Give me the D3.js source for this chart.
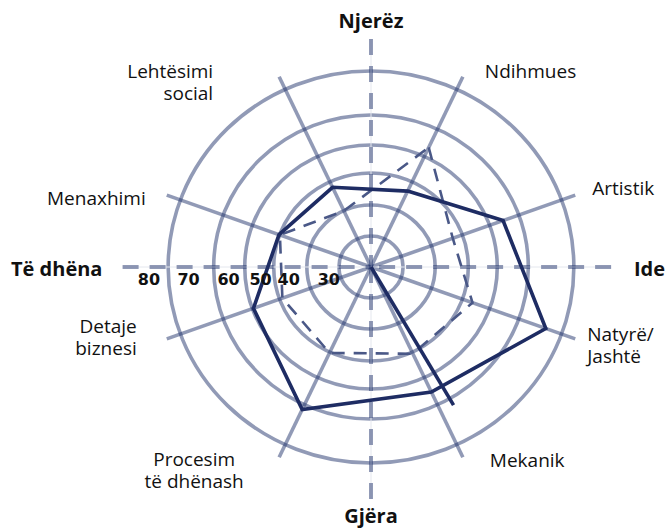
<!DOCTYPE html>
<html>
<head>
<meta charset="utf-8">
<script src="https://cdn.jsdelivr.net/npm/d3@7"></script>
<style>
  body { margin: 0; background: #fff; }
  text { font-family: "Open Sans", sans-serif; fill: #111; }
</style>
</head>
<body>
<svg id="chart"></svg>
<script>
var width = 668;
var height = 529;
var cx = 371, cy = 267;   // centre of the web
var sx = 1.035;           // the original is a touch wider than tall

// the eight solid spokes (clockwise from top)
var axisLabels = [["Ndihmues"], ["Artistik"], ["Natyrë/", "Jashtë"], ["Mekanik"],
                  ["Procesim", "të dhënash"], ["Detaje", "biznesi"], ["Menaxhimi"], ["Lehtësimi", "social"]];
var axisAngles = [25, 70, 110, 155, 205, 250, 290, 335];

// the four dashed main axes
var mainLabels = ["Njerëz", "Ide", "Gjëra", "Të dhëna"];
var mainAngles = [0, 90, 180, 270];

// ring values / tick labels
var ringValues = [30, 40, 50, 60, 70, 80];

// series (same order as axisLabels)
var solidValues = [46.8, 64.6, 76.3, 65.3, 71.2, 59.6, 50.2, 48.1];
var dashedValues = [63.3, 46.9, 53.7, 50.6, 50.3, 49.1, 49.9, 40.0];

// stray segment of the solid series that starts in the centre
var strayAngle = 150;
var strayValue = 71.7;

var svg = d3.select('#chart')
  .attr('width', width)
  .attr('height', height)
  .attr('viewBox', [0, 0, width, height]);

// radial scale (rings are not evenly spaced in the original)
var r = d3.scaleLinear()
  .domain([20, 30, 40, 50, 60, 70, 80])
  .range([0, 31, 62, 94, 122, 152, 196]);

var rad = d => d * Math.PI / 180;
function pt(a, v) {
  return [cx + sx * r(v) * Math.sin(rad(a)), cy - r(v) * Math.cos(rad(a))];
}
function ptR(a, len) {
  return [cx + sx * len * Math.sin(rad(a)), cy - len * Math.cos(rad(a))];
}

var gridColor = "#23356e";

// rings
svg.append("g").selectAll("ellipse")
  .data(ringValues)
  .join("ellipse")
    .attr("cx", cx).attr("cy", cy)
    .attr("rx", d => r(d) * sx)
    .attr("ry", d => r(d))
    .attr("fill", "none")
    .attr("stroke", gridColor)
    .attr("stroke-opacity", 0.5)
    .attr("stroke-width", 3.6);

// solid spokes
var spokeLen = 210;
svg.append("g").selectAll("line")
  .data(axisAngles)
  .join("line")
    .attr("x1", cx).attr("y1", cy)
    .attr("x2", d => ptR(d, spokeLen)[0])
    .attr("y2", d => ptR(d, spokeLen)[1])
    .attr("stroke", gridColor)
    .attr("stroke-opacity", 0.5)
    .attr("stroke-width", 3.6);

// dashed main axes (thin hairline underneath)
var mainLen = [228, 232, 232, 240];
var mainG = svg.append("g");
mainG.selectAll("line.hair")
  .data(mainAngles)
  .join("line")
    .attr("class", "hair")
    .attr("x1", cx).attr("y1", cy)
    .attr("x2", (d, i) => ptR(d, mainLen[i])[0])
    .attr("y2", (d, i) => ptR(d, mainLen[i])[1])
    .attr("stroke", "#e4e7ee")
    .attr("stroke-width", 1);
mainG.selectAll("line.dash")
  .data(mainAngles)
  .join("line")
    .attr("class", "dash")
    .attr("x1", (d, i) => ptR(d, mainLen[i])[0])
    .attr("y1", (d, i) => ptR(d, mainLen[i])[1])
    .attr("x2", cx).attr("y2", cy)
    .attr("stroke", gridColor)
    .attr("stroke-opacity", 0.5)
    .attr("stroke-width", 4)
    .attr("stroke-dasharray", "16,11");

// series
var line = d3.line().curve(d3.curveLinearClosed);

svg.append("path")
  .datum(dashedValues.map((v, i) => pt(axisAngles[i], v)))
  .attr("d", line)
  .attr("fill", "none")
  .attr("stroke", "#4a5887")
  .attr("stroke-width", 2.6)
  .attr("stroke-dasharray", "13,9");

svg.append("path")
  .datum(solidValues.map((v, i) => pt(axisAngles[i], v)))
  .attr("d", line)
  .attr("fill", "none")
  .attr("stroke", "#1e2c63")
  .attr("stroke-width", 3.6)
  .attr("stroke-linejoin", "miter");

svg.append("line")
  .attr("x1", cx).attr("y1", cy)
  .attr("x2", pt(strayAngle, strayValue)[0])
  .attr("y2", pt(strayAngle, strayValue)[1])
  .attr("stroke", "#1e2c63")
  .attr("stroke-width", 3.6);

// ring value labels, left of each ring on the horizontal axis
var tickOffset = { 80: -8, 70: -14, 60: -5, 50: -2, 40: -7, 30: 1 };
svg.append("g").selectAll("text")
  .data(ringValues)
  .join("text")
    .attr("x", d => cx - r(d) * sx + tickOffset[d])
    .attr("y", cy + 18)
    .attr("text-anchor", "end")
    .style("font-family", "'DejaVu Sans', sans-serif")
    .style("font-weight", "bold")
    .style("font-size", "16px")
    .text(d => d);

// spoke labels: offset from the spoke end
var labelLayout = [
  { dx: 22, dy: 1, anchor: "start" },
  { dx: 17, dy: 0, anchor: "start" },
  { dx: 12, dy: 2, anchor: "start" },
  { dx: 27, dy: 10, anchor: "start" },
  { dx: -85, dy: 9, anchor: "middle" },
  { dx: -30, dy: -6, anchor: "end" },
  { dx: -21, dy: 10, anchor: "end" },
  { dx: -66, dy: 1, anchor: "end" }
];
svg.append("g").selectAll("text")
  .data(axisLabels)
  .join("text")
    .attr("text-anchor", (d, i) => labelLayout[i].anchor)
    .attr("x", (d, i) => ptR(axisAngles[i], spokeLen)[0] + labelLayout[i].dx)
    .attr("y", (d, i) => ptR(axisAngles[i], spokeLen)[1] + labelLayout[i].dy)
    .style("font-size", "19px")
    .each(function(d, i) {
      var t = d3.select(this);
      var x = t.attr("x");
      d.forEach((s, j) => {
        t.append("tspan").attr("x", x).attr("dy", j === 0 ? 0 : 22).text(s);
      });
    });

// main axis labels
var mainLayout = [
  { x: 371, y: 28, anchor: "middle" },
  { x: 665, y: 276, anchor: "end" },
  { x: 371, y: 523, anchor: "middle" },
  { x: 11, y: 276, anchor: "start" }
];
svg.append("g").selectAll("text")
  .data(mainLabels)
  .join("text")
    .attr("x", (d, i) => mainLayout[i].x)
    .attr("y", (d, i) => mainLayout[i].y)
    .attr("text-anchor", (d, i) => mainLayout[i].anchor)
    .style("font-size", "20px")
    .style("font-weight", "bold")
    .text(d => d);
</script>
</body>
</html>
